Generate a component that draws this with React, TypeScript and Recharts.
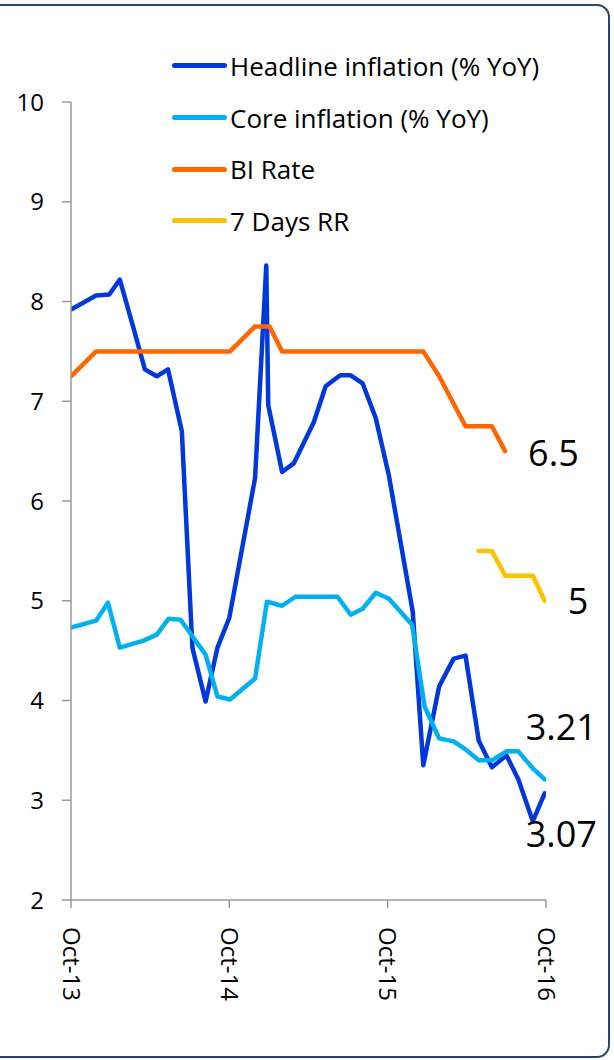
import { LineChart, Line, XAxis, YAxis } from "recharts";

// x positions in months after Oct-13 (the source chart uses a date axis)
const headlineT = [0, 1.9, 2.9, 3.7, 4.7, 5.6, 6.5, 7.35, 8.4, 9.2, 10.2, 11.1, 12.0, 13.95, 14.8, 14.95, 16.0, 16.9, 18.4, 19.3, 20.4, 21.2, 22.1, 23.1, 24.1, 25.9, 26.7, 27.9, 29.0, 29.9, 30.9, 31.9, 33.0, 33.9, 35.0, 35.9];
const headline = [7.92, 8.06, 8.07, 8.22, 7.75, 7.32, 7.25, 7.32, 6.7, 4.53, 3.99, 4.53, 4.83, 6.23, 8.36, 6.96, 6.29, 6.38, 6.79, 7.15, 7.26, 7.26, 7.18, 6.83, 6.25, 4.89, 3.35, 4.14, 4.42, 4.45, 3.6, 3.33, 3.45, 3.21, 2.79, 3.07];

const coreT = [0, 1.9, 2.8, 3.7, 5.5, 6.5, 7.4, 8.3, 10.2, 11.1, 12.05, 13.95, 14.85, 16.0, 17.0, 18.0, 19.1, 20.2, 21.2, 22.1, 23.1, 24.1, 25.85, 26.8, 27.9, 29.0, 29.9, 30.9, 31.9, 33.0, 33.9, 35.0, 35.9];
const core = [4.73, 4.8, 4.98, 4.53, 4.6, 4.66, 4.82, 4.81, 4.46, 4.04, 4.01, 4.22, 4.99, 4.95, 5.04, 5.04, 5.04, 5.04, 4.86, 4.92, 5.08, 5.02, 4.76, 3.94, 3.62, 3.59, 3.51, 3.4, 3.4, 3.49, 3.49, 3.32, 3.21];

const biT = [0, 1.9, 12.05, 13.95, 15.05, 16.0, 26.7, 27.9, 29.9, 31.9, 32.9];
const biRate = [7.25, 7.5, 7.5, 7.75, 7.75, 7.5, 7.5, 7.25, 6.75, 6.75, 6.5];

const rrT = [30.9, 31.9, 32.9, 35.0, 35.9];
const rr = [5.5, 5.5, 5.25, 5.25, 5.0];

const seriesNames = ["Headline inflation (% YoY)", "Core inflation (% YoY)", "BI Rate", "7 Days RR"];
const seriesColors = ["#0038DC", "#00B0F0", "#FF6600", "#FFC000"];

const xTicks = [0, 12, 24, 36];
const xLabels = ["Oct-13", "Oct-14", "Oct-15", "Oct-16"];
const yTicks = [2, 3, 4, 5, 6, 7, 8, 9, 10];

const toRows = (t: number[], v: number[]) => t.map((x, i) => ({ t: x, v: v[i] }));

const headlineData = toRows(headlineT, headline);
const coreData = toRows(coreT, core);
const biData = toRows(biT, biRate);
const rrData = toRows(rrT, rr);

const FONT = "'Open Sans', sans-serif";

// value label only on the last point of a series
const endLabel = (count: number, dx: number, dy: number) => (props: any) => {
  const { x, y, index, value } = props;
  if (index !== count - 1) return null;
  return (
    <text x={x + dx} y={y + dy} dy="0.35em" fontSize={36} fill="#000" fontFamily={FONT}>
      {value}
    </text>
  );
};

const XTick = (props: any) => {
  const { x, y, payload } = props;
  const i = xTicks.indexOf(payload.value);
  return (
    <g transform={`translate(${x},${y})`}>
      <text transform="rotate(90)" x={19} y={0} dy="0.35em" textAnchor="start" fontSize={24} fill="#000" fontFamily={FONT}>
        {xLabels[i]}
      </text>
    </g>
  );
};

export default function App() {
  return (
    <>
      <div style={{ position: "fixed", left: 0, top: 0, width: 614, height: 1060, background: "#fff", fontFamily: FONT }}>
        <LineChart width={614} height={1060} margin={{ top: 102, right: 68, bottom: 100, left: 11 }}>
          <XAxis
            type="number"
            dataKey="t"
            domain={[0, 36]}
            ticks={xTicks}
            allowDataOverflow
            stroke="#9A9A9A"
            strokeWidth={1.5}
            tickSize={8}
            tickMargin={0}
            height={60}
            tick={<XTick />}
          />
          <YAxis
            type="number"
            domain={[2, 10]}
            ticks={yTicks}
            width={60}
            stroke="#9A9A9A"
            strokeWidth={1.5}
            tickSize={9}
            tickMargin={18}
            tick={{ fill: "#000", fontSize: 24, fontFamily: FONT }}
          />
          <Line data={headlineData} dataKey="v" name={seriesNames[0]} stroke={seriesColors[0]} strokeWidth={4.5} dot={false} isAnimationActive={false} strokeLinejoin="round" strokeLinecap="round" label={endLabel(headline.length, -19, 41)} />
          <Line data={coreData} dataKey="v" name={seriesNames[1]} stroke={seriesColors[1]} strokeWidth={4.5} dot={false} isAnimationActive={false} strokeLinejoin="round" strokeLinecap="round" label={endLabel(core.length, -19, -52)} />
          <Line data={biData} dataKey="v" name={seriesNames[2]} stroke={seriesColors[2]} strokeWidth={4.5} dot={false} isAnimationActive={false} strokeLinejoin="round" strokeLinecap="round" label={endLabel(biRate.length, 23, 2)} />
          <Line data={rrData} dataKey="v" name={seriesNames[3]} stroke={seriesColors[3]} strokeWidth={4.5} dot={false} isAnimationActive={false} strokeLinejoin="round" strokeLinecap="round" label={endLabel(rr.length, 23, 1)} />
        </LineChart>

        {/* legend */}
        <div style={{ position: "absolute", left: 172, top: 40 }}>
          {seriesNames.map((name, i) => (
            <div key={name} style={{ display: "flex", alignItems: "center", height: 51.7 }}>
              <span style={{ display: "inline-block", width: 55, height: 5, borderRadius: 3, background: seriesColors[i] }} />
              <span style={{ marginLeft: 3, fontSize: 26, color: "#000", lineHeight: 1, whiteSpace: "nowrap" }}>{name}</span>
            </div>
          ))}
        </div>
      </div>

      {/* rounded frame; its left side lies outside the picture */}
      <div
        style={{
          position: "fixed",
          left: -20,
          top: 4,
          width: 630,
          height: 1054,
          boxSizing: "border-box",
          border: "2px solid #26456B",
          borderRadius: 13,
          pointerEvents: "none",
        }}
      />
    </>
  );
}
